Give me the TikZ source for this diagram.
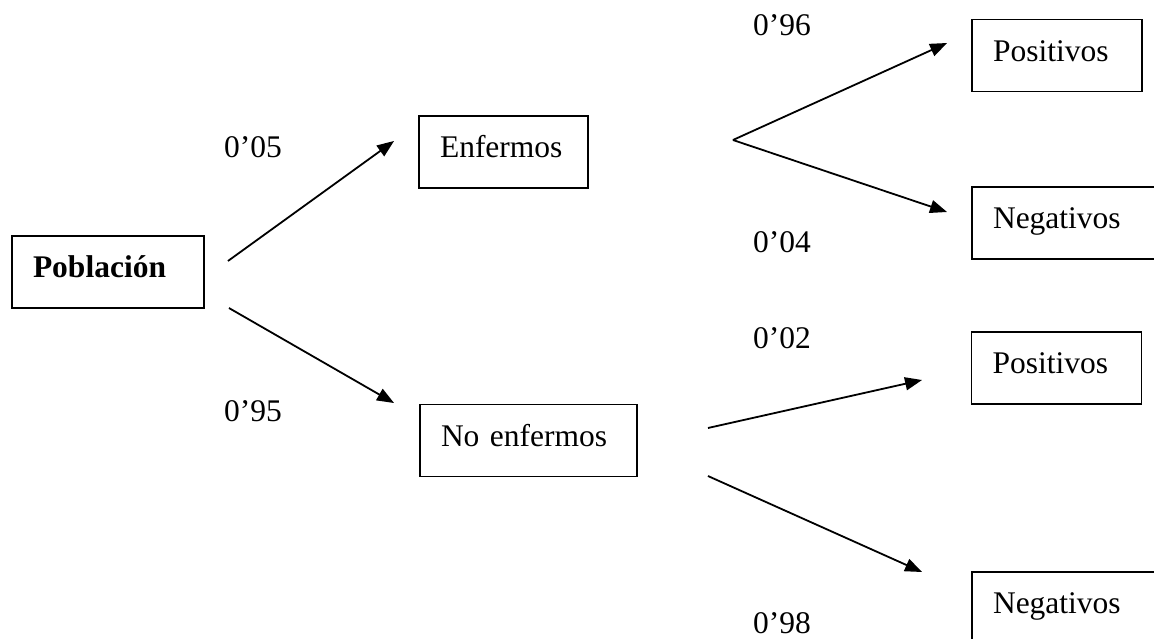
\documentclass[tikz,border=0pt]{standalone}
\usepackage{fontspec}
\setmainfont{Liberation Serif}
\usetikzlibrary{arrows.meta}
\begin{document}
\begin{tikzpicture}[x=1pt,y=-1pt,
  box/.style={draw,line width=1.9pt,minimum height=72pt,inner xsep=21pt,inner ysep=0pt,
    align=left,text height=22pt,text depth=11pt,
    font=\fontsize{31.5}{36}\selectfont},
  prob/.style={anchor=base west,inner sep=0pt,font=\fontsize{31.5}{36}\selectfont},
  branch/.style={line width=1.8pt,-{Triangle[length=17pt,width=13pt]}}]
  \useasboundingbox (0,0) rectangle (1154,638);
  \clip (0,0) rectangle (1154,638);

  % boxes
  \node[box,text width=150pt] (pob)   at (108,272)    {\textbf{Población}};
  \node[box,text width=127pt] (enf)   at (503.5,152)  {Enfermos};
  \node[box,text width=175pt] (noenf) at (528.5,440.5){No enfermos};
  \node[box,text width=128pt] (pos1)  at (1057,55.5)  {Positivos};
  \node[box,text width=158pt] (neg1)  at (1072,223)   {Negativos};
  \node[box,text width=128pt] (pos2)  at (1056.5,368) {Positivos};
  \node[box,text width=158pt] (neg2)  at (1072,608)   {Negativos};

  % branches
  \draw[branch] ([shift={(23,-11)}]pob.east) -- ([shift={(-24,-11)}]enf.west);
  \draw[branch] ([shift={(24,36)}]pob.east) -- ([shift={(-25,-37.5)}]noenf.west);
  \coordinate (fork) at ([shift={(144,-12)}]enf.east);
  \draw[branch] (fork) -- ([shift={(-24,-12.5)}]pos1.west);
  \draw[branch] (fork) -- ([shift={(-24,-11)}]neg1.west);
  \draw[branch] ([shift={(70,-12.5)}]noenf.east) -- ([shift={(-48.5,12)}]pos2.west);
  \draw[branch] ([shift={(70,35.5)}]noenf.east) -- ([shift={(-49,-36)}]neg2.west);

  % probabilities
  \node[prob] (p05) at (224,157) {0’05};
  \node[prob] (p95) at (224,421) {0’95};
  \node[prob] (p96) at (753,35)  {0’96};
  \node[prob] (p04) at (753,252) {0’04};
  \node[prob] (p02) at (753,348) {0’02};
  \node[prob] (p98) at (753,633) {0’98};
\end{tikzpicture}
\end{document}
